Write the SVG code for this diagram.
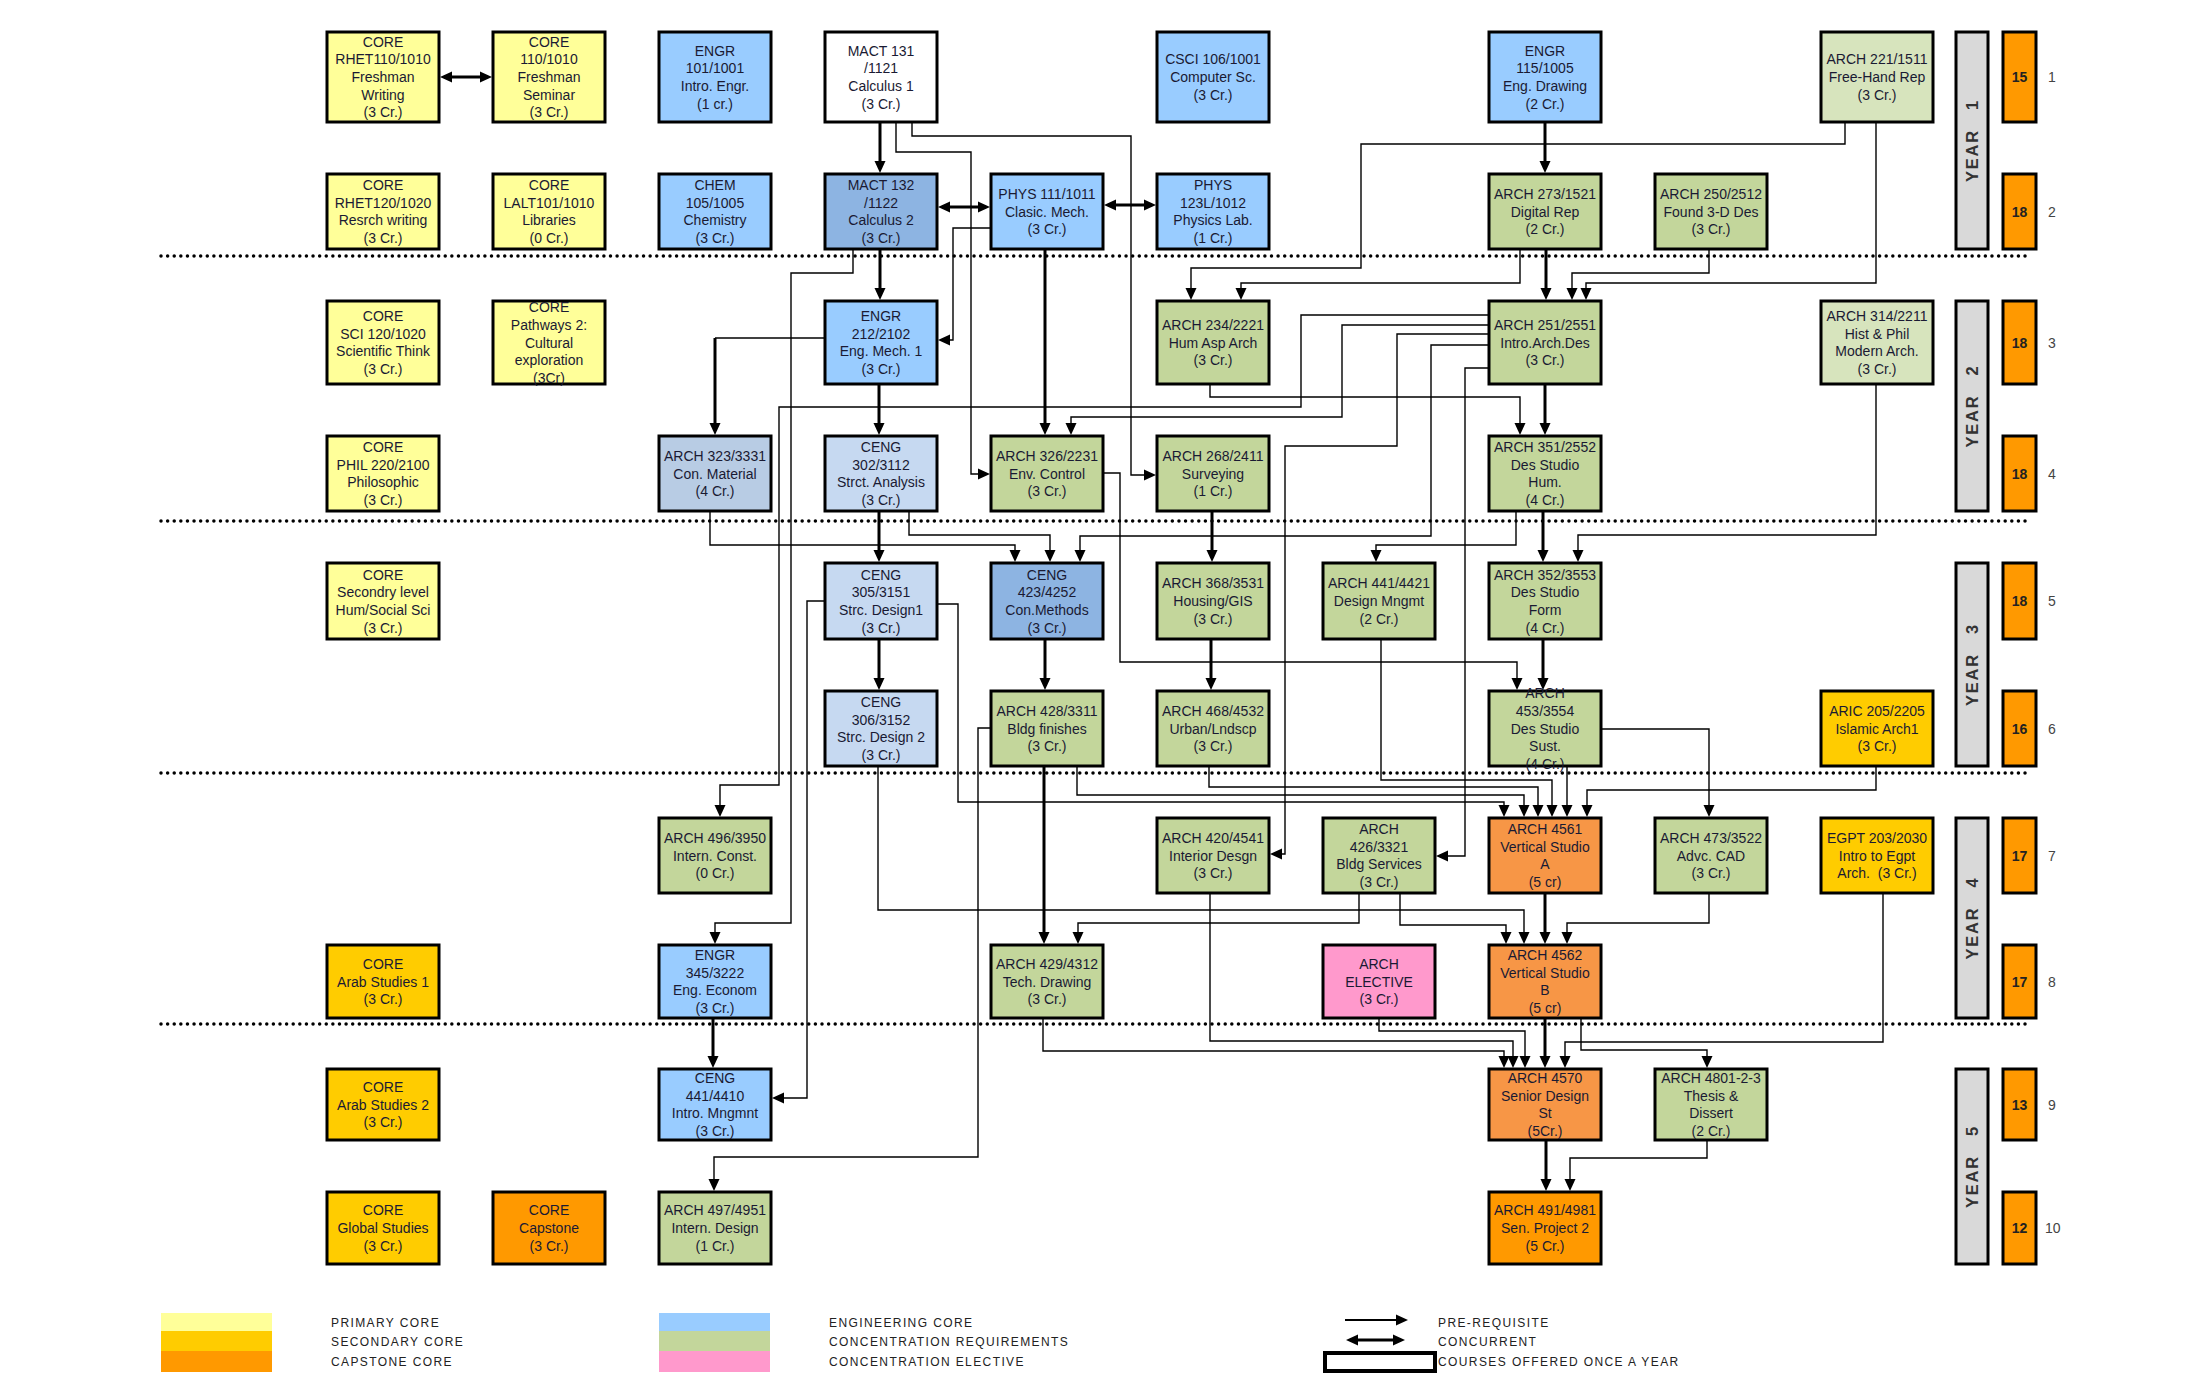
<svg xmlns="http://www.w3.org/2000/svg" width="2200" height="1388" viewBox="0 0 2200 1388">
<style>
.b{stroke:#000;stroke-width:3}
.py{fill:#FFFF99}.sc{fill:#FFCC00}.cp{fill:#FF9900}.en{fill:#99CCFF}.cr{fill:#C3D69B}.pg{fill:#D7E4BD}.el{fill:#FF99CC}.db{fill:#8DB4E2}.lb{fill:#C6D9F1}.gb{fill:#B8CCE4}.or{fill:#F79646}.wh{fill:#FFFFFF}.yb{fill:#D9D9D9}
.t{font-family:"Liberation Sans",Arial,sans-serif;font-size:14px;fill:#1a1a33;text-anchor:middle}
.yt{font-family:"Liberation Sans",Arial,sans-serif;font-size:16.5px;font-weight:bold;fill:#333;text-anchor:middle;letter-spacing:1.8px}
.nt{font-family:"Liberation Sans",Arial,sans-serif;font-size:14px;font-weight:bold;fill:#222;text-anchor:middle}
.rn{font-family:"Liberation Sans",Arial,sans-serif;font-size:14px;fill:#444}
.lg{font-family:"Liberation Sans",Arial,sans-serif;font-size:12px;fill:#222;letter-spacing:1.4px}
.thin{fill:none;stroke:#000;stroke-width:1.4;marker-end:url(#ah)}
.thick{fill:none;stroke:#000;stroke-width:3;marker-end:url(#ah)}
.ln{fill:none;stroke:#000;stroke-width:1.4}
.conc{fill:none;stroke:#000;stroke-width:3;marker-start:url(#ahs);marker-end:url(#ah)}
.dot{stroke:#000;stroke-width:3.5;stroke-linecap:round;stroke-dasharray:0.01 6.6}
</style>
<defs>
<marker id="ah" markerUnits="userSpaceOnUse" markerWidth="12" markerHeight="12" viewBox="0 0 12 12" refX="8" refY="6" orient="auto"><path d="M0,0.5 L12,6 L0,11.5 z" fill="#000"/></marker>
<marker id="ahs" markerUnits="userSpaceOnUse" markerWidth="12" markerHeight="12" viewBox="0 0 12 12" refX="8" refY="6" orient="auto-start-reverse"><path d="M0,0.5 L12,6 L0,11.5 z" fill="#000"/></marker>
</defs>
<rect width="2200" height="1388" fill="#fff"/>

<g id="separators">
<line class="dot" x1="161" y1="256" x2="2030" y2="256"/>
<line class="dot" x1="161" y1="521" x2="2030" y2="521"/>
<line class="dot" x1="161" y1="773" x2="2030" y2="773"/>
<line class="dot" x1="161" y1="1024" x2="2030" y2="1024"/>
</g>

<g id="connectors">
<path class="conc" d="M444,77 H488"/>
<path class="conc" d="M942,207 H986"/>
<path class="conc" d="M1108,205 H1152"/>
<path class="thick" d="M880,122 V169"/>
<path class="thick" d="M880,249 V296"/>
<path class="thick" d="M1045,249 V431"/>
<path class="thick" d="M1545,122 V169"/>
<path class="thick" d="M1546,249 V296"/>
<path class="thick" d="M1545,384 V431"/>
<path class="thick" d="M879,384 V431"/>
<path class="thick" d="M879,511 V558"/>
<path class="thick" d="M879,639 V686"/>
<path class="thick" d="M1045,639 V686"/>
<path class="thick" d="M1212,511 V558"/>
<path class="thick" d="M1211,639 V686"/>
<path class="thick" d="M1543,511 V558"/>
<path class="thick" d="M1543,639 V686"/>
<path class="thick" d="M1044,766 V940"/>
<path class="thick" d="M1545,893 V940"/>
<path class="thick" d="M1545,1018 V1064"/>
<path class="thick" d="M1546,1140 V1187"/>
<path class="thick" d="M713,1018 V1064"/>
<path class="ln" d="M825,338 H715"/>
<path class="thick" d="M715,338 V431"/>
<path class="thin" d="M896,122 V152 H971 V474 H986"/>
<path class="thin" d="M912,122 V136 H1131 V475 H1152"/>
<path class="thin" d="M991,228 H953 V340 H942"/>
<path class="thin" d="M853,249 V273 H791 V923 H715 V940"/>
<path class="thin" d="M1845,122 V144 H1361 V268 H1191 V296"/>
<path class="thin" d="M1520,249 V283 H1241 V296"/>
<path class="thin" d="M1709,249 V273 H1572 V296"/>
<path class="thin" d="M1876,122 V283 H1586 V296"/>
<path class="thin" d="M1210,384 V397 H1520 V431"/>
<path class="thin" d="M1489,315 H1301 V407 H779 V785 H720 V813"/>
<path class="thin" d="M1489,325 H1342 V417 H1071 V431"/>
<path class="thin" d="M1489,334 H1397 V446 H1285 V854 H1274"/>
<path class="thin" d="M1489,345 H1431 V536 H1080 V558"/>
<path class="thin" d="M1489,368 H1465 V856 H1440"/>
<path class="thin" d="M1516,511 V545 H1376 V558"/>
<path class="thin" d="M1876,384 V535 H1578 V558"/>
<path class="thin" d="M1103,473 H1120 V662 H1517 V686"/>
<path class="thin" d="M909,511 V535 H1050 V558"/>
<path class="thin" d="M710,511 V545 H1015 V558"/>
<path class="thin" d="M1601,729 H1709 V813"/>
<path class="thin" d="M1381,639 V780 H1552 V813"/>
<path class="thin" d="M1567,766 V813"/>
<path class="thin" d="M1876,766 V790 H1587 V813"/>
<path class="thin" d="M1077,766 V795 H1524 V813"/>
<path class="thin" d="M1209,766 V787 H1538 V813"/>
<path class="thin" d="M937,604 H958 V802 H1504 V813"/>
<path class="thin" d="M991,728 H978 V1157 H714 V1187"/>
<path class="thin" d="M825,601 H807 V1098 H776"/>
<path class="thin" d="M878,766 V910 H1524 V940"/>
<path class="thin" d="M1359,893 V923 H1078 V940"/>
<path class="thin" d="M1400,893 V925 H1506 V940"/>
<path class="thin" d="M1709,893 V923 H1567 V940"/>
<path class="thin" d="M1379,1018 V1031 H1525 V1064"/>
<path class="thin" d="M1210,893 V1041 H1513 V1064"/>
<path class="thin" d="M1043,1018 V1051 H1504 V1064"/>
<path class="thin" d="M1883,893 V1042 H1565 V1064"/>
<path class="thin" d="M1581,1018 V1050 H1707 V1064"/>
<path class="thin" d="M1707,1140 V1158 H1570 V1187"/>
</g>

<g id="n-rhet110"><rect class="b py" x="327" y="32" width="112" height="90"/><text class="t" y="46.6"><tspan x="383">CORE</tspan><tspan x="383" dy="17.7">RHET110/1010</tspan><tspan x="383" dy="17.7">Freshman</tspan><tspan x="383" dy="17.7">Writing</tspan><tspan x="383" dy="17.7">(3 Cr.)</tspan></text></g>
<g id="n-core110"><rect class="b py" x="493" y="32" width="112" height="90"/><text class="t" y="46.6"><tspan x="549">CORE</tspan><tspan x="549" dy="17.7">110/1010</tspan><tspan x="549" dy="17.7">Freshman</tspan><tspan x="549" dy="17.7">Seminar</tspan><tspan x="549" dy="17.7">(3 Cr.)</tspan></text></g>
<g id="n-engr101"><rect class="b en" x="659" y="32" width="112" height="90"/><text class="t" y="55.5"><tspan x="715">ENGR</tspan><tspan x="715" dy="17.7">101/1001</tspan><tspan x="715" dy="17.7">Intro. Engr.</tspan><tspan x="715" dy="17.7">(1 cr.)</tspan></text></g>
<g id="n-mact131"><rect class="b wh" x="825" y="32" width="112" height="90"/><text class="t" y="55.5"><tspan x="881">MACT 131</tspan><tspan x="881" dy="17.7">/1121</tspan><tspan x="881" dy="17.7">Calculus 1</tspan><tspan x="881" dy="17.7">(3 Cr.)</tspan></text></g>
<g id="n-csci106"><rect class="b en" x="1157" y="32" width="112" height="90"/><text class="t" y="64.3"><tspan x="1213">CSCI 106/1001</tspan><tspan x="1213" dy="17.7">Computer Sc.</tspan><tspan x="1213" dy="17.7">(3 Cr.)</tspan></text></g>
<g id="n-engr115"><rect class="b en" x="1489" y="32" width="112" height="90"/><text class="t" y="55.5"><tspan x="1545">ENGR</tspan><tspan x="1545" dy="17.7">115/1005</tspan><tspan x="1545" dy="17.7">Eng. Drawing</tspan><tspan x="1545" dy="17.7">(2 Cr.)</tspan></text></g>
<g id="n-arch221"><rect class="b pg" x="1821" y="32" width="112" height="90"/><text class="t" y="64.3"><tspan x="1877">ARCH 221/1511</tspan><tspan x="1877" dy="17.7">Free-Hand Rep</tspan><tspan x="1877" dy="17.7">(3 Cr.)</tspan></text></g>

<g id="n-rhet120"><rect class="b py" x="327" y="174" width="112" height="75"/><text class="t" y="190"><tspan x="383">CORE</tspan><tspan x="383" dy="17.7">RHET120/1020</tspan><tspan x="383" dy="17.7">Resrch writing</tspan><tspan x="383" dy="17.7">(3 Cr.)</tspan></text></g>
<g id="n-lalt101"><rect class="b py" x="493" y="174" width="112" height="75"/><text class="t" y="190"><tspan x="549">CORE</tspan><tspan x="549" dy="17.7">LALT101/1010</tspan><tspan x="549" dy="17.7">Libraries</tspan><tspan x="549" dy="17.7">(0 Cr.)</tspan></text></g>
<g id="n-chem105"><rect class="b en" x="659" y="174" width="112" height="75"/><text class="t" y="190"><tspan x="715">CHEM</tspan><tspan x="715" dy="17.7">105/1005</tspan><tspan x="715" dy="17.7">Chemistry</tspan><tspan x="715" dy="17.7">(3 Cr.)</tspan></text></g>
<g id="n-mact132"><rect class="b db" x="825" y="174" width="112" height="75"/><text class="t" y="190"><tspan x="881">MACT 132</tspan><tspan x="881" dy="17.7">/1122</tspan><tspan x="881" dy="17.7">Calculus 2</tspan><tspan x="881" dy="17.7">(3 Cr.)</tspan></text></g>
<g id="n-phys111"><rect class="b en" x="991" y="174" width="112" height="75"/><text class="t" y="198.8"><tspan x="1047">PHYS 111/1011</tspan><tspan x="1047" dy="17.7">Clasic. Mech.</tspan><tspan x="1047" dy="17.7">(3 Cr.)</tspan></text></g>
<g id="n-phys123"><rect class="b en" x="1157" y="174" width="112" height="75"/><text class="t" y="190"><tspan x="1213">PHYS</tspan><tspan x="1213" dy="17.7">123L/1012</tspan><tspan x="1213" dy="17.7">Physics Lab.</tspan><tspan x="1213" dy="17.7">(1 Cr.)</tspan></text></g>
<g id="n-arch273"><rect class="b cr" x="1489" y="174" width="112" height="75"/><text class="t" y="198.8"><tspan x="1545">ARCH 273/1521</tspan><tspan x="1545" dy="17.7">Digital Rep</tspan><tspan x="1545" dy="17.7">(2 Cr.)</tspan></text></g>
<g id="n-arch250"><rect class="b cr" x="1655" y="174" width="112" height="75"/><text class="t" y="198.8"><tspan x="1711">ARCH 250/2512</tspan><tspan x="1711" dy="17.7">Found 3-D Des</tspan><tspan x="1711" dy="17.7">(3 Cr.)</tspan></text></g>

<g id="n-sci120"><rect class="b py" x="327" y="301" width="112" height="83"/><text class="t" y="321"><tspan x="383">CORE</tspan><tspan x="383" dy="17.7">SCI 120/1020</tspan><tspan x="383" dy="17.7">Scientific Think</tspan><tspan x="383" dy="17.7">(3 Cr.)</tspan></text></g>
<g id="n-pathways"><rect class="b py" x="493" y="301" width="112" height="83"/><text class="t" y="312.1"><tspan x="549">CORE</tspan><tspan x="549" dy="17.7">Pathways 2:</tspan><tspan x="549" dy="17.7">Cultural</tspan><tspan x="549" dy="17.7">exploration</tspan><tspan x="549" dy="17.7">(3Cr)</tspan></text></g>
<g id="n-engr212"><rect class="b en" x="825" y="301" width="112" height="83"/><text class="t" y="321"><tspan x="881">ENGR</tspan><tspan x="881" dy="17.7">212/2102</tspan><tspan x="881" dy="17.7">Eng. Mech. 1</tspan><tspan x="881" dy="17.7">(3 Cr.)</tspan></text></g>
<g id="n-arch234"><rect class="b cr" x="1157" y="301" width="112" height="83"/><text class="t" y="329.8"><tspan x="1213">ARCH 234/2221</tspan><tspan x="1213" dy="17.7">Hum Asp Arch</tspan><tspan x="1213" dy="17.7">(3 Cr.)</tspan></text></g>
<g id="n-arch251"><rect class="b cr" x="1489" y="301" width="112" height="83"/><text class="t" y="329.8"><tspan x="1545">ARCH 251/2551</tspan><tspan x="1545" dy="17.7">Intro.Arch.Des</tspan><tspan x="1545" dy="17.7">(3 Cr.)</tspan></text></g>
<g id="n-arch314"><rect class="b pg" x="1821" y="301" width="112" height="83"/><text class="t" y="321"><tspan x="1877">ARCH 314/2211</tspan><tspan x="1877" dy="17.7">Hist &amp; Phil</tspan><tspan x="1877" dy="17.7">Modern Arch.</tspan><tspan x="1877" dy="17.7">(3 Cr.)</tspan></text></g>

<g id="n-phil220"><rect class="b py" x="327" y="436" width="112" height="75"/><text class="t" y="452"><tspan x="383">CORE</tspan><tspan x="383" dy="17.7">PHIL 220/2100</tspan><tspan x="383" dy="17.7">Philosophic</tspan><tspan x="383" dy="17.7">(3 Cr.)</tspan></text></g>
<g id="n-arch323"><rect class="b gb" x="659" y="436" width="112" height="75"/><text class="t" y="460.8"><tspan x="715">ARCH 323/3331</tspan><tspan x="715" dy="17.7">Con. Material</tspan><tspan x="715" dy="17.7">(4 Cr.)</tspan></text></g>
<g id="n-ceng302"><rect class="b lb" x="825" y="436" width="112" height="75"/><text class="t" y="452"><tspan x="881">CENG</tspan><tspan x="881" dy="17.7">302/3112</tspan><tspan x="881" dy="17.7">Strct. Analysis</tspan><tspan x="881" dy="17.7">(3 Cr.)</tspan></text></g>
<g id="n-arch326"><rect class="b cr" x="991" y="436" width="112" height="75"/><text class="t" y="460.8"><tspan x="1047">ARCH 326/2231</tspan><tspan x="1047" dy="17.7">Env. Control</tspan><tspan x="1047" dy="17.7">(3 Cr.)</tspan></text></g>
<g id="n-arch268"><rect class="b cr" x="1157" y="436" width="112" height="75"/><text class="t" y="460.8"><tspan x="1213">ARCH 268/2411</tspan><tspan x="1213" dy="17.7">Surveying</tspan><tspan x="1213" dy="17.7">(1 Cr.)</tspan></text></g>
<g id="n-arch351"><rect class="b cr" x="1489" y="436" width="112" height="75"/><text class="t" y="452"><tspan x="1545">ARCH 351/2552</tspan><tspan x="1545" dy="17.7">Des Studio</tspan><tspan x="1545" dy="17.7">Hum.</tspan><tspan x="1545" dy="17.7">(4 Cr.)</tspan></text></g>

<g id="n-secondry"><rect class="b py" x="327" y="563" width="112" height="76"/><text class="t" y="579.5"><tspan x="383">CORE</tspan><tspan x="383" dy="17.7">Secondry level</tspan><tspan x="383" dy="17.7">Hum/Social Sci</tspan><tspan x="383" dy="17.7">(3 Cr.)</tspan></text></g>
<g id="n-ceng305"><rect class="b lb" x="825" y="563" width="112" height="76"/><text class="t" y="579.5"><tspan x="881">CENG</tspan><tspan x="881" dy="17.7">305/3151</tspan><tspan x="881" dy="17.7">Strc. Design1</tspan><tspan x="881" dy="17.7">(3 Cr.)</tspan></text></g>
<g id="n-ceng423"><rect class="b db" x="991" y="563" width="112" height="76"/><text class="t" y="579.5"><tspan x="1047">CENG</tspan><tspan x="1047" dy="17.7">423/4252</tspan><tspan x="1047" dy="17.7">Con.Methods</tspan><tspan x="1047" dy="17.7">(3 Cr.)</tspan></text></g>
<g id="n-arch368"><rect class="b cr" x="1157" y="563" width="112" height="76"/><text class="t" y="588.3"><tspan x="1213">ARCH 368/3531</tspan><tspan x="1213" dy="17.7">Housing/GIS</tspan><tspan x="1213" dy="17.7">(3 Cr.)</tspan></text></g>
<g id="n-arch441"><rect class="b cr" x="1323" y="563" width="112" height="76"/><text class="t" y="588.3"><tspan x="1379">ARCH 441/4421</tspan><tspan x="1379" dy="17.7">Design Mngmt</tspan><tspan x="1379" dy="17.7">(2 Cr.)</tspan></text></g>
<g id="n-arch352"><rect class="b cr" x="1489" y="563" width="112" height="76"/><text class="t" y="579.5"><tspan x="1545">ARCH 352/3553</tspan><tspan x="1545" dy="17.7">Des Studio</tspan><tspan x="1545" dy="17.7">Form</tspan><tspan x="1545" dy="17.7">(4 Cr.)</tspan></text></g>

<g id="n-ceng306"><rect class="b lb" x="825" y="691" width="112" height="75"/><text class="t" y="707"><tspan x="881">CENG</tspan><tspan x="881" dy="17.7">306/3152</tspan><tspan x="881" dy="17.7">Strc. Design 2</tspan><tspan x="881" dy="17.7">(3 Cr.)</tspan></text></g>
<g id="n-arch428"><rect class="b cr" x="991" y="691" width="112" height="75"/><text class="t" y="715.8"><tspan x="1047">ARCH 428/3311</tspan><tspan x="1047" dy="17.7">Bldg finishes</tspan><tspan x="1047" dy="17.7">(3 Cr.)</tspan></text></g>
<g id="n-arch468"><rect class="b cr" x="1157" y="691" width="112" height="75"/><text class="t" y="715.8"><tspan x="1213">ARCH 468/4532</tspan><tspan x="1213" dy="17.7">Urban/Lndscp</tspan><tspan x="1213" dy="17.7">(3 Cr.)</tspan></text></g>
<g id="n-arch453"><rect class="b cr" x="1489" y="691" width="112" height="75"/><text class="t" y="698.1"><tspan x="1545">ARCH</tspan><tspan x="1545" dy="17.7">453/3554</tspan><tspan x="1545" dy="17.7">Des Studio</tspan><tspan x="1545" dy="17.7">Sust.</tspan><tspan x="1545" dy="17.7">(4 Cr.)</tspan></text></g>
<g id="n-aric205"><rect class="b sc" x="1821" y="691" width="112" height="75"/><text class="t" y="715.8"><tspan x="1877">ARIC 205/2205</tspan><tspan x="1877" dy="17.7">Islamic Arch1</tspan><tspan x="1877" dy="17.7">(3 Cr.)</tspan></text></g>

<g id="n-arch496"><rect class="b cr" x="659" y="818" width="112" height="75"/><text class="t" y="842.8"><tspan x="715">ARCH 496/3950</tspan><tspan x="715" dy="17.7">Intern. Const.</tspan><tspan x="715" dy="17.7">(0 Cr.)</tspan></text></g>
<g id="n-arch420"><rect class="b cr" x="1157" y="818" width="112" height="75"/><text class="t" y="842.8"><tspan x="1213">ARCH 420/4541</tspan><tspan x="1213" dy="17.7">Interior Desgn</tspan><tspan x="1213" dy="17.7">(3 Cr.)</tspan></text></g>
<g id="n-arch426"><rect class="b cr" x="1323" y="818" width="112" height="75"/><text class="t" y="834"><tspan x="1379">ARCH</tspan><tspan x="1379" dy="17.7">426/3321</tspan><tspan x="1379" dy="17.7">Bldg Services</tspan><tspan x="1379" dy="17.7">(3 Cr.)</tspan></text></g>
<g id="n-arch4561"><rect class="b or" x="1489" y="818" width="112" height="75"/><text class="t" y="834"><tspan x="1545">ARCH 4561</tspan><tspan x="1545" dy="17.7">Vertical Studio</tspan><tspan x="1545" dy="17.7">A</tspan><tspan x="1545" dy="17.7">(5 cr)</tspan></text></g>
<g id="n-arch473"><rect class="b cr" x="1655" y="818" width="112" height="75"/><text class="t" y="842.8"><tspan x="1711">ARCH 473/3522</tspan><tspan x="1711" dy="17.7">Advc. CAD</tspan><tspan x="1711" dy="17.7">(3 Cr.)</tspan></text></g>
<g id="n-egpt203"><rect class="b sc" x="1821" y="818" width="112" height="75"/><text class="t" y="842.8" xml:space="preserve"><tspan x="1877">EGPT 203/2030</tspan><tspan x="1877" dy="17.7">Intro to Egpt</tspan><tspan x="1877" dy="17.7">Arch.  (3 Cr.)</tspan></text></g>

<g id="n-arab1"><rect class="b sc" x="327" y="945" width="112" height="73"/><text class="t" y="968.8"><tspan x="383">CORE</tspan><tspan x="383" dy="17.7">Arab Studies 1</tspan><tspan x="383" dy="17.7">(3 Cr.)</tspan></text></g>
<g id="n-engr345"><rect class="b en" x="659" y="945" width="112" height="73"/><text class="t" y="960"><tspan x="715">ENGR</tspan><tspan x="715" dy="17.7">345/3222</tspan><tspan x="715" dy="17.7">Eng. Econom</tspan><tspan x="715" dy="17.7">(3 Cr.)</tspan></text></g>
<g id="n-arch429"><rect class="b cr" x="991" y="945" width="112" height="73"/><text class="t" y="968.8"><tspan x="1047">ARCH 429/4312</tspan><tspan x="1047" dy="17.7">Tech. Drawing</tspan><tspan x="1047" dy="17.7">(3 Cr.)</tspan></text></g>
<g id="n-elective"><rect class="b el" x="1323" y="945" width="112" height="73"/><text class="t" y="968.8"><tspan x="1379">ARCH</tspan><tspan x="1379" dy="17.7">ELECTIVE</tspan><tspan x="1379" dy="17.7">(3 Cr.)</tspan></text></g>
<g id="n-arch4562"><rect class="b or" x="1489" y="945" width="112" height="73"/><text class="t" y="960"><tspan x="1545">ARCH 4562</tspan><tspan x="1545" dy="17.7">Vertical Studio</tspan><tspan x="1545" dy="17.7">B</tspan><tspan x="1545" dy="17.7">(5 cr)</tspan></text></g>

<g id="n-arab2"><rect class="b sc" x="327" y="1069" width="112" height="71"/><text class="t" y="1091.8"><tspan x="383">CORE</tspan><tspan x="383" dy="17.7">Arab Studies 2</tspan><tspan x="383" dy="17.7">(3 Cr.)</tspan></text></g>
<g id="n-ceng441"><rect class="b en" x="659" y="1069" width="112" height="71"/><text class="t" y="1083"><tspan x="715">CENG</tspan><tspan x="715" dy="17.7">441/4410</tspan><tspan x="715" dy="17.7">Intro. Mngmnt</tspan><tspan x="715" dy="17.7">(3 Cr.)</tspan></text></g>
<g id="n-arch4570"><rect class="b or" x="1489" y="1069" width="112" height="71"/><text class="t" y="1083"><tspan x="1545">ARCH 4570</tspan><tspan x="1545" dy="17.7">Senior Design</tspan><tspan x="1545" dy="17.7">St</tspan><tspan x="1545" dy="17.7">(5Cr.)</tspan></text></g>
<g id="n-arch4801"><rect class="b cr" x="1655" y="1069" width="112" height="71"/><text class="t" y="1083"><tspan x="1711">ARCH 4801-2-3</tspan><tspan x="1711" dy="17.7">Thesis &amp;</tspan><tspan x="1711" dy="17.7">Dissert</tspan><tspan x="1711" dy="17.7">(2 Cr.)</tspan></text></g>

<g id="n-global"><rect class="b sc" x="327" y="1192" width="112" height="72"/><text class="t" y="1215.3"><tspan x="383">CORE</tspan><tspan x="383" dy="17.7">Global Studies</tspan><tspan x="383" dy="17.7">(3 Cr.)</tspan></text></g>
<g id="n-capstone"><rect class="b cp" x="493" y="1192" width="112" height="72"/><text class="t" y="1215.3"><tspan x="549">CORE</tspan><tspan x="549" dy="17.7">Capstone</tspan><tspan x="549" dy="17.7">(3 Cr.)</tspan></text></g>
<g id="n-arch497"><rect class="b cr" x="659" y="1192" width="112" height="72"/><text class="t" y="1215.3"><tspan x="715">ARCH 497/4951</tspan><tspan x="715" dy="17.7">Intern. Design</tspan><tspan x="715" dy="17.7">(1 Cr.)</tspan></text></g>
<g id="n-arch491"><rect class="b cp" x="1489" y="1192" width="112" height="72"/><text class="t" y="1215.3"><tspan x="1545">ARCH 491/4981</tspan><tspan x="1545" dy="17.7">Sen. Project 2</tspan><tspan x="1545" dy="17.7">(5 Cr.)</tspan></text></g>

<g id="years">
<rect class="b yb" x="1956" y="32" width="32" height="217"/>
<text class="yt" transform="translate(1972,140.5) rotate(-90)" y="6" xml:space="preserve">YEAR   1</text>
<rect class="b yb" x="1956" y="301" width="32" height="210"/>
<text class="yt" transform="translate(1972,406) rotate(-90)" y="6" xml:space="preserve">YEAR   2</text>
<rect class="b yb" x="1956" y="563" width="32" height="203"/>
<text class="yt" transform="translate(1972,664.5) rotate(-90)" y="6" xml:space="preserve">YEAR   3</text>
<rect class="b yb" x="1956" y="818" width="32" height="200"/>
<text class="yt" transform="translate(1972,918) rotate(-90)" y="6" xml:space="preserve">YEAR   4</text>
<rect class="b yb" x="1956" y="1069" width="32" height="195"/>
<text class="yt" transform="translate(1972,1166.5) rotate(-90)" y="6" xml:space="preserve">YEAR   5</text>
</g>

<g id="credits">
<rect class="b cp" x="2003" y="32" width="33" height="90"/><text class="nt" x="2019.5" y="82">15</text><text class="rn" x="2048" y="82">1</text>
<rect class="b cp" x="2003" y="174" width="33" height="75"/><text class="nt" x="2019.5" y="216.5">18</text><text class="rn" x="2048" y="216.5">2</text>
<rect class="b cp" x="2003" y="301" width="33" height="83"/><text class="nt" x="2019.5" y="347.5">18</text><text class="rn" x="2048" y="347.5">3</text>
<rect class="b cp" x="2003" y="436" width="33" height="75"/><text class="nt" x="2019.5" y="478.5">18</text><text class="rn" x="2048" y="478.5">4</text>
<rect class="b cp" x="2003" y="563" width="33" height="76"/><text class="nt" x="2019.5" y="606">18</text><text class="rn" x="2048" y="606">5</text>
<rect class="b cp" x="2003" y="691" width="33" height="75"/><text class="nt" x="2019.5" y="733.5">16</text><text class="rn" x="2048" y="733.5">6</text>
<rect class="b cp" x="2003" y="818" width="33" height="75"/><text class="nt" x="2019.5" y="860.5">17</text><text class="rn" x="2048" y="860.5">7</text>
<rect class="b cp" x="2003" y="945" width="33" height="73"/><text class="nt" x="2019.5" y="986.5">17</text><text class="rn" x="2048" y="986.5">8</text>
<rect class="b cp" x="2003" y="1069" width="33" height="71"/><text class="nt" x="2019.5" y="1109.5">13</text><text class="rn" x="2048" y="1109.5">9</text>
<rect class="b cp" x="2003" y="1192" width="33" height="72"/><text class="nt" x="2019.5" y="1233">12</text><text class="rn" x="2045" y="1233">10</text>
</g>

<g id="legend">
<rect x="161" y="1313" width="111" height="18" fill="#FFFF99"/>
<rect x="161" y="1331" width="111" height="20" fill="#FFCC00"/>
<rect x="161" y="1351" width="111" height="21" fill="#FF9900"/>
<text class="lg" x="331" y="1326.5">PRIMARY CORE</text>
<text class="lg" x="331" y="1346">SECONDARY CORE</text>
<text class="lg" x="331" y="1365.5">CAPSTONE CORE</text>
<rect x="659" y="1313" width="111" height="18" fill="#99CCFF"/>
<rect x="659" y="1331" width="111" height="20" fill="#C3D69B"/>
<rect x="659" y="1351" width="111" height="21" fill="#FF99CC"/>
<text class="lg" x="829" y="1326.5">ENGINEERING CORE</text>
<text class="lg" x="829" y="1346">CONCENTRATION REQUIREMENTS</text>
<text class="lg" x="829" y="1365.5">CONCENTRATION ELECTIVE</text>
<path fill="none" stroke="#000" stroke-width="2" marker-end="url(#ah)" d="M1345,1320 H1404"/>
<path class="conc" d="M1350,1340 H1401"/>
<rect x="1325" y="1353" width="110" height="18" fill="#fff" stroke="#000" stroke-width="4"/>
<text class="lg" x="1438" y="1326.5">PRE-REQUISITE</text>
<text class="lg" x="1438" y="1346">CONCURRENT</text>
<text class="lg" x="1438" y="1366">COURSES OFFERED ONCE A YEAR</text>
</g>
</svg>
